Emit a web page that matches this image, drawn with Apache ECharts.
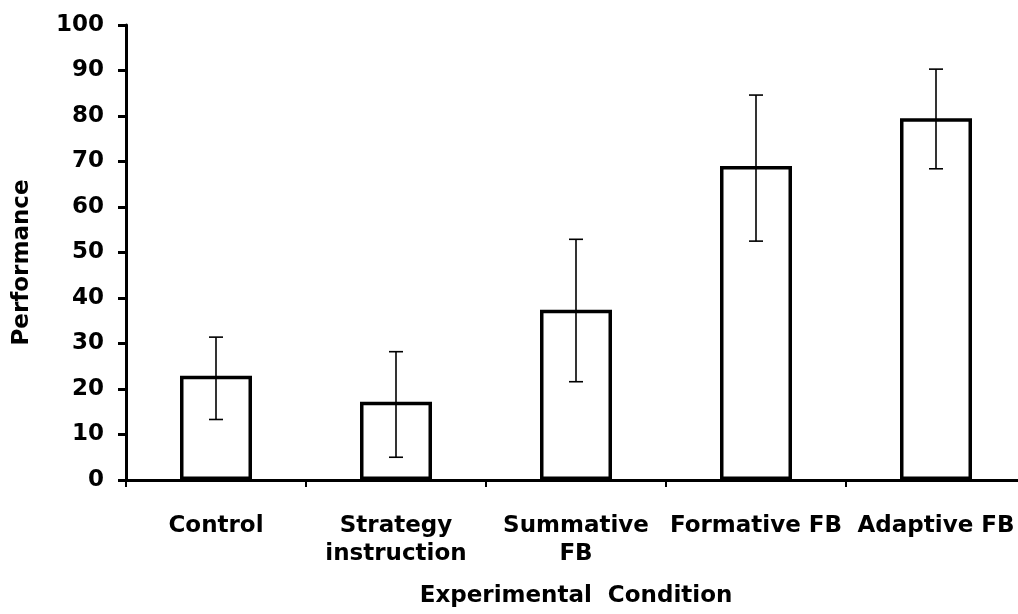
<!DOCTYPE html>
<html>
<head>
<meta charset="utf-8">
<script src="https://cdn.jsdelivr.net/npm/echarts@6/dist/echarts.min.js"></script>
<style>html,body{margin:0;padding:0;background:#fff}#c{width:1018px;height:614px}</style>
</head>
<body>
<div id="c"></div>
<script>
const categories = ['Control', 'Strategy\ninstruction', 'Summative\nFB', 'Formative FB', 'Adaptive FB'];
const means = [22.9, 17.2, 37.4, 69.0, 79.5];
const errLow = [13.3, 5.0, 21.6, 52.5, 68.4];
const errHigh = [31.4, 28.2, 52.9, 84.6, 90.3];
const yTicks = [0, 10, 20, 30, 40, 50, 60, 70, 80, 90, 100];

const font = '"DejaVu Sans", sans-serif';
const chart = echarts.init(document.getElementById('c'));
const errData = categories.map((c, i) => [i, errLow[i], errHigh[i]]);

chart.setOption({
  backgroundColor: '#fff',
  animation: false,
  grid: { left: 126, right: -8, top: 25, bottom: 134, containLabel: false, outerBoundsMode: 'none' },
  xAxis: {
    type: 'category',
    data: categories,
    name: 'Experimental  Condition',
    nameLocation: 'middle',
    nameGap: 105,
    nameTextStyle: { fontFamily: font, fontWeight: 'bold', fontSize: 23, color: '#000' },
    axisLine: { lineStyle: { color: '#000', width: 3 } },
    axisTick: { show: true, length: 7, lineStyle: { color: '#000', width: 2 } },
    axisLabel: { fontFamily: font, fontWeight: 'bold', fontSize: 23, color: '#000', margin: 32, lineHeight: 28, interval: 0 },
    splitLine: { show: false }
  },
  yAxis: {
    type: 'value',
    min: 0, max: 100, interval: 10,
    name: 'Performance',
    nameLocation: 'middle',
    nameGap: 92,
    nameRotate: 90,
    nameTextStyle: { fontFamily: font, fontWeight: 'bold', fontSize: 23, color: '#000', padding: [0, 0, 0, -20] },
    axisLine: { show: true, lineStyle: { color: '#000', width: 3 } },
    axisTick: { show: true, length: 8, lineStyle: { color: '#000', width: 3 } },
    axisLabel: { fontFamily: font, fontWeight: 'bold', fontSize: 23, color: '#000', margin: 22,
      formatter: v => yTicks.includes(v) ? String(v) : '' },
    splitLine: { show: false }
  },
  series: [
    {
      type: 'bar',
      data: means,
      barWidth: 72,
      itemStyle: { color: '#fff', borderColor: '#000', borderWidth: 3.5 },
      z: 2
    },
    {
      type: 'custom',
      data: errData,
      z: 3,
      renderItem: function (params, api) {
        const x = api.value(0);
        const lo = api.coord([x, api.value(1)]);
        const hi = api.coord([x, api.value(2)]);
        const hw = 7;
        const style = { stroke: '#000', lineWidth: 1.6 };
        return {
          type: 'group',
          children: [
            { type: 'line', shape: { x1: lo[0], y1: lo[1], x2: hi[0], y2: hi[1] }, style },
            { type: 'line', shape: { x1: hi[0] - hw, y1: hi[1], x2: hi[0] + hw, y2: hi[1] }, style },
            { type: 'line', shape: { x1: lo[0] - hw, y1: lo[1], x2: lo[0] + hw, y2: lo[1] }, style }
          ]
        };
      }
    }
  ]
});
</script>
</body>
</html>
